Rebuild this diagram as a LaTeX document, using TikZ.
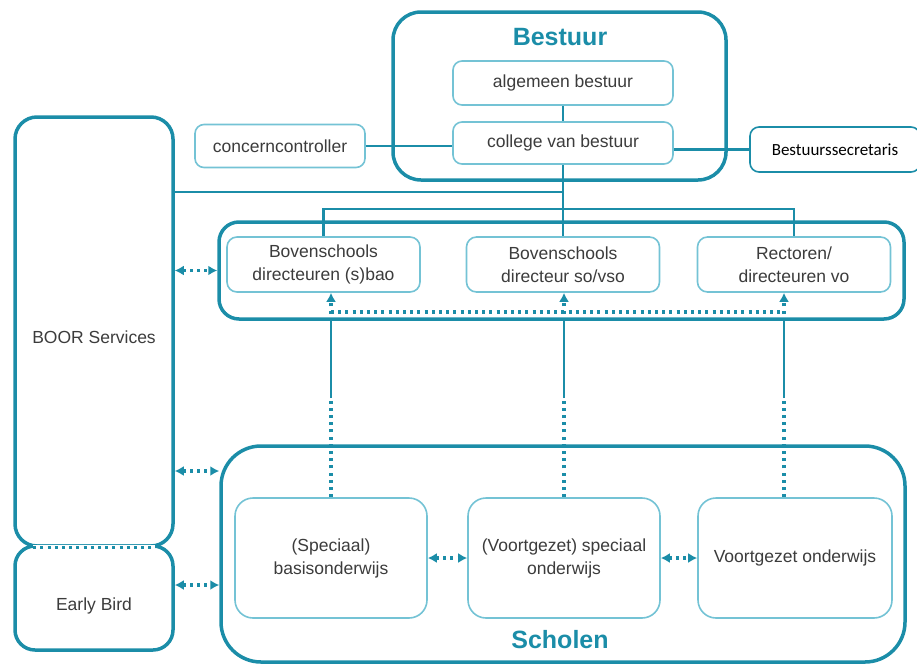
\documentclass[tikz,border=0pt]{standalone}
\usepackage{fontspec}
\setmainfont{Liberation Sans}
\newfontfamily\secfont{Carlito}
\usetikzlibrary{arrows.meta,positioning}

\definecolor{tealdk}{HTML}{1B8DA8}
\definecolor{teallt}{HTML}{74C3D5}
\definecolor{txtgray}{HTML}{3C3C3C}

\tikzset{
  group/.style={draw=tealdk, line width=3.5pt, rounded corners=#1, inner sep=0pt},
  group/.default=20pt,
  txt/.style={text=txtgray, align=center, font=\fontsize{17.5}{23}\selectfont},
  unit/.style={txt, draw=teallt, line width=1.6pt, rounded corners=9pt, fill=white, inner sep=0pt},
  title/.style={text=tealdk, font=\bfseries\fontsize{25}{30}\selectfont},
  link/.style={draw=tealdk, line width=2.8pt},
  dotlink/.style={draw=tealdk, line width=3.2pt, dash pattern=on 3pt off 4.2pt},
  tip/.style={-{Latex[length=9pt,width=10pt]}},
  twoway/.style={dotlink, {Latex[length=9pt,width=10pt]}-{Latex[length=9pt,width=10pt]}}
}

\begin{document}
\begin{tikzpicture}[x=1pt, y=-1pt]
  \useasboundingbox (0,0) rectangle (917,664);

  % big frames
  \node[group=28pt, minimum width=333pt, minimum height=168pt] (bestuur) at (559.5,96) {};
  \node[group=22pt, minimum width=158pt, minimum height=429pt] (boor) at (94,331.5) {};
  \node[group=20pt, minimum width=158pt, minimum height=104pt] (early) at (94,598) {};
  \node[group=20pt, minimum width=685pt, minimum height=97pt] (dirs) at (561.5,270.5) {};
  \node[group=40pt, minimum width=684pt, minimum height=216pt] (scholen) at (563,554) {};

  % seam between BOOR Services and Early Bird
  \draw[white, line width=6pt] ([xshift=20pt]boor.south west) -- ([xshift=-20pt]boor.south east);
  \draw[dotlink] ([xshift=20pt]boor.south west) -- ([xshift=-20pt]boor.south east);

  \node[title] (bestuurTitle) at (560,37) {Bestuur};
  \node[title] (scholenTitle) at (560,640) {Scholen};
  \node[txt] (boorLbl) at (94,337) {BOOR Services};
  \node[txt] (earlyLbl) at (94,606) {Early Bird};

  % units
  \node[unit, minimum width=220pt, minimum height=44pt] (algemeen) at (563,83) {algemeen bestuur};
  \node[unit, minimum width=220pt, minimum height=42pt] (college) at (563,143) {college van bestuur};
  \node[unit, minimum width=170pt, minimum height=43pt] (concern) at (280,146) {concerncontroller};
  \node[unit, draw=tealdk, minimum width=170pt, minimum height=45pt, text=black,
        font=\secfont\fontsize{17}{20}\selectfont] (secretaris) at (835,149.5) {Bestuurssecretaris};

  \node[unit, rounded corners=10pt, minimum width=193pt, minimum height=55pt] (dirBao) at (323.5,264.5) {Bovenschools\\directeuren (s)bao};
  \node[unit, rounded corners=10pt, minimum width=193pt, minimum height=55pt] (dirSo) at (563,264.5) {Bovenschools\\directeur so/vso};
  \node[unit, rounded corners=10pt, minimum width=193pt, minimum height=55pt] (dirVo) at (794,264.5) {Rectoren/\\directeuren vo};

  \node[unit, rounded corners=18pt, minimum width=192pt, minimum height=120pt] (schBao) at (331,558) {(Speciaal)\\basisonderwijs};
  \node[unit, rounded corners=18pt, minimum width=192pt, minimum height=120pt] (schSo) at (564,558) {(Voortgezet) speciaal\\onderwijs};
  \node[unit, rounded corners=18pt, minimum width=194pt, minimum height=120pt] (schVo) at (795,558) {Voortgezet onderwijs};

  % helper levels
  \coordinate (barBoor) at (0,192);
  \coordinate (barDir) at (0,209);
  \coordinate (dline) at (0,312);
  \coordinate (brk) at (0,398);
  \coordinate (voLine) at (784,0);
  \coordinate (sideA) at (0,471);
  \coordinate (sideB) at (0,585);

  % solid lines
  \draw[link] (algemeen) -- (college);
  \draw[link] (concern.east) -- (concern.east -| college.west);
  \draw[link] (secretaris.west -| college.east) -- (secretaris.west);
  \draw[link] (college.south) -- (dirSo.north);
  \draw[link] (college.south |- barBoor) -- (boor.east |- barBoor);
  \draw[link] (dirBao.north) |- (barDir -| dirVo.north) -- (dirVo.north);

  % side arrows
  \draw[twoway] (boor.east |- dirs.west) -- (dirs.west);
  \draw[twoway] (boor.east |- sideA) -- (scholen.west |- sideA);
  \draw[twoway] (early.east |- sideB) -- (scholen.west |- sideB);
  \draw[twoway] (schBao.east) -- (schSo.west);
  \draw[twoway] (schSo.east) -- (schVo.west);

  % schools up to directors
  \draw[dotlink] (schBao.north) -- (schBao.north |- brk);
  \draw[link] (schBao.north |- brk) -- (schBao.north |- dirs.south);
  \draw[dotlink, tip] (schBao.north |- dirs.south) -- (schBao.north |- dirBao.south);
  \draw[dotlink] (schSo.north) -- (schSo.north |- brk);
  \draw[link] (schSo.north |- brk) -- (schSo.north |- dirs.south);
  \draw[dotlink, tip] (schSo.north |- dirs.south) -- (schSo.north |- dirSo.south);
  \draw[dotlink] (voLine |- schVo.north) -- (voLine |- brk);
  \draw[link] (voLine |- brk) -- (voLine |- dirs.south);
  \draw[dotlink, tip] (voLine |- dirs.south) -- (voLine |- dirVo.south);
  \draw[dotlink] (schBao.north |- dline) -- (voLine |- dline);
\end{tikzpicture}
\end{document}
